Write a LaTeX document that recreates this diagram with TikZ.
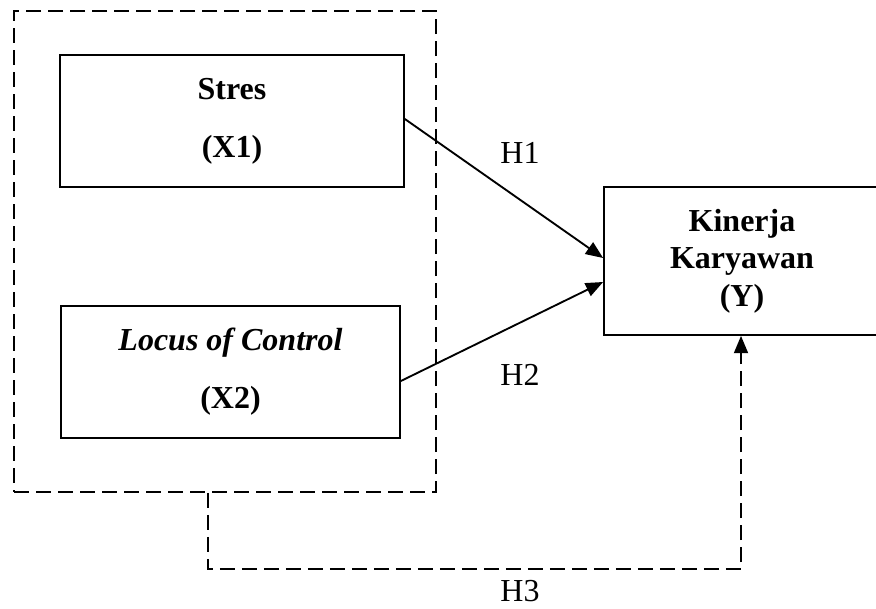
\documentclass[tikz,border=0pt]{standalone}
\usepackage{fontspec}
\setmainfont{Liberation Serif}
\usetikzlibrary{arrows.meta}
\begin{document}
\begin{tikzpicture}[x=0.75pt,y=-0.75pt,
  every node/.style={font=\fontsize{24}{28}\selectfont},
  box/.style={draw,line width=1.3pt,align=center,inner sep=0pt},
  frm/.style={draw,line width=1.3pt,dash pattern=on 11pt off 5.5pt,inner sep=0pt},
  arr/.style={line width=1.4pt,-{Triangle[length=13pt,width=10.5pt]}},
  darr/.style={line width=1.4pt,dash pattern=on 11pt off 5.5pt,-{Triangle[length=13pt,width=10.5pt]}},
  lbl/.style={inner sep=0pt}]
\useasboundingbox (0,0) rectangle (876,608);
\node[frm,minimum width=316.5pt,minimum height=360.75pt] (frame) at (225,251.5) {};
\node[box,minimum width=258pt,minimum height=99pt] (stres) at (232,121)
  {\bfseries Stres\\[15.5pt]\bfseries (X1)};
\node[box,minimum width=254.25pt,minimum height=99pt] (locus) at (230.5,372)
  {\bfseries\itshape Locus of Control\\[15.5pt]\bfseries (X2)};
\node[box,minimum width=207pt,minimum height=111pt] (kin) at (742,261)
  {\bfseries Kinerja\\\bfseries Karyawan\\\bfseries (Y)};
\draw[arr] ([yshift=1.5pt]stres.east) -- ([yshift=2.25pt]kin.west);
\draw[arr] ([yshift=-6.75pt]locus.east) -- ([yshift=-15.75pt]kin.west);
\coordinate (ha) at (208,569);
\coordinate (hb) at (741,569);
\draw[darr] (frame.south -| ha) -- (ha) -- (hb) -- (kin.south -| hb);
\node[lbl] (h1) at (520,153) {H1};
\node[lbl] (h2) at (520,375) {H2};
\node[lbl] (h3) at (520,591) {H3};
\end{tikzpicture}
\end{document}
